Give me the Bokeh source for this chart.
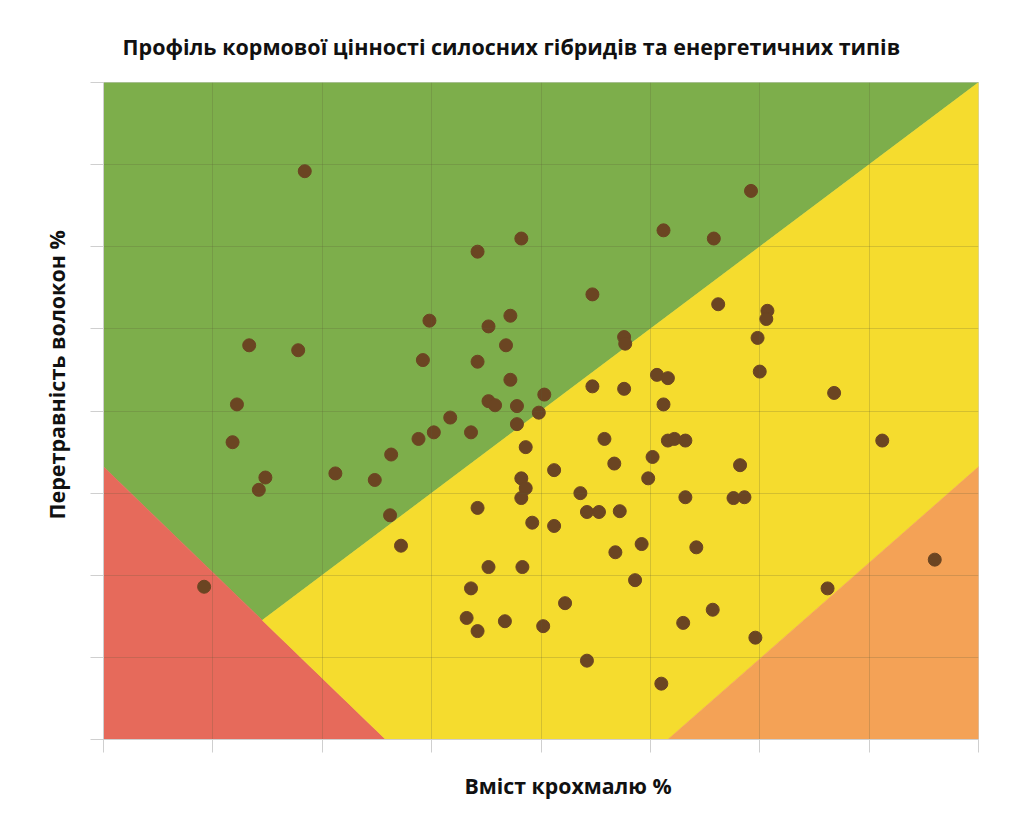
from bokeh.plotting import figure
from bokeh.models import Range1d, Title
from bokeh.embed import file_html
from bokeh.resources import INLINE

# ---- data ----
starch = [9.2, 29.6, 17.1, 19.1, 25.6, 27.9, 22.35, 28.1, 30.35, 30.3,
          14.9, 17.6, 18.6, 6.66, 8.9, 18.4, 23.8, 23.85, 29.9, 14.6,
          17.1, 18.6, 22.35, 23.8, 25.3, 25.8, 30.0, 33.4, 20.15, 6.1,
          17.6, 17.9, 18.9, 25.6, 19.9, 15.85, 18.9, 15.1, 16.8, 14.4,
          5.9, 19.3, 22.9, 25.8, 26.1, 26.6, 35.6, 13.15, 25.1, 23.35,
          10.6, 12.4, 7.4, 20.6, 19.1, 24.9, 29.1, 7.1, 19.3, 21.8,
          19.1, 26.6, 28.8, 29.3, 17.1, 13.1, 22.1, 22.65, 23.6, 19.6,
          20.6, 13.6, 24.6, 23.4, 27.1, 17.6, 19.15, 24.3, 38.0, 4.6,
          16.8, 33.1, 21.1, 27.85, 16.6, 18.35, 17.1, 26.5, 20.1, 29.8,
          22.1, 25.5]
digestibility = [64.6, 63.4, 59.7, 60.5, 61.0, 60.5, 57.1, 56.5, 56.1, 55.6,
                 55.5, 55.15, 55.8, 54.0, 53.7, 54.0, 54.5, 54.1, 54.45, 53.1,
                 53.0, 51.9, 51.5, 51.35, 52.2, 52.0, 52.4, 51.1, 51.0, 50.4,
                 50.6, 50.35, 50.3, 50.4, 49.9, 49.6, 49.2, 48.7, 48.7, 48.3,
                 48.1, 47.8, 48.3, 48.2, 48.3, 48.2, 48.2, 47.35, 47.2, 46.8,
                 46.2, 45.8, 45.95, 46.4, 45.9, 45.9, 46.7, 45.2, 45.3, 45.0,
                 44.7, 44.75, 44.7, 44.75, 44.1, 43.65, 43.85, 43.85, 43.9, 43.2,
                 43.0, 41.8, 41.9, 41.4, 41.7, 40.5, 40.5, 39.7, 40.95, 39.3,
                 39.2, 39.2, 38.3, 37.9, 37.4, 37.2, 36.6, 37.1, 36.9, 36.2,
                 34.8, 33.4]

x_ticks = [0, 5, 10, 15, 20, 25, 30, 35, 40]
y_ticks = [30, 35, 40, 45, 50, 55, 60, 65, 70]

zone_names = ["green", "red", "yellow", "orange"]
zone_xs = [
    [0, 40, 7.26, 0],
    [0, 0, 12.9],
    [7.26, 40, 40, 25.8, 12.9],
    [25.8, 40, 40],
]
zone_ys = [
    [70, 70, 37.26, 46.6],
    [46.6, 30, 30],
    [37.26, 70, 46.6, 30, 30],
    [30, 30, 46.6],
]
zone_colors = ["#7dae4b", "#e66a5b", "#f5dc2e", "#f4a256"]

title_text = "Профіль кормової цінності силосних гібридів та енергетичних типів"
x_label_text = "Вміст крохмалю %"
y_label_text = "Перетравність волокон %"

# ---- figure ----
p = figure(frame_width=875, frame_height=657,
           x_range=Range1d(0, 40), y_range=Range1d(30, 70),
           output_backend="svg", toolbar_location=None,
           min_border_left=103, min_border_top=82,
           min_border_right=30, min_border_bottom=80)
p.background_fill_color = "white"
p.border_fill_color = "white"
p.outline_line_color = "#cfcfcf"

p.patches(xs=zone_xs, ys=zone_ys, fill_color=zone_colors,
          line_color=zone_colors, line_width=0.6, level="underlay")

for g, t in ((p.xgrid, x_ticks), (p.ygrid, y_ticks)):
    g.ticker = t
    g.grid_line_color = "#5b5b35"
    g.grid_line_alpha = 0.22
    g.grid_line_width = 1
    g.level = "glyph"

for ax, t in ((p.xaxis, x_ticks), (p.yaxis, y_ticks)):
    ax.ticker = t
    ax.major_label_overrides = {v: "" for v in t}
    ax.major_tick_out = 13
    ax.major_tick_in = 0
    ax.minor_tick_line_color = None
    ax.axis_line_color = "#cfcfcf"
    ax.major_tick_line_color = "#cfcfcf"

p.scatter(starch, digestibility, size=13, color="#6b4522")

p.title = Title(text=title_text, align="left", offset=19, standoff=44,
                text_font="Open Sans", text_font_style="bold",
                text_font_size="21.5px", text_color="#111111")
p.add_layout(Title(text=x_label_text, align="left", offset=361, standoff=32,
                   text_font="Open Sans", text_font_style="bold",
                   text_font_size="21.3px", text_color="#111111"), "below")
p.add_layout(Title(text=y_label_text, align="left", offset=220, standoff=40,
                   text_font="Open Sans", text_font_style="bold",
                   text_font_size="21.5px", text_color="#111111"), "left")

open("out.html", "w").write(file_html(p, INLINE))
